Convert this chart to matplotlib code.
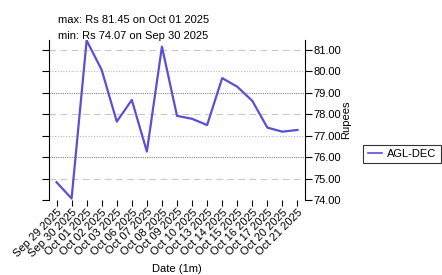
import numpy as np
import matplotlib.pyplot as plt

plt.rcParams['font.family'] = ['Liberation Sans', 'DejaVu Sans']

# 数据
dates = ['Sep 29 2025', 'Sep 30 2025', 'Oct 01 2025', 'Oct 02 2025', 'Oct 03 2025',
         'Oct 06 2025', 'Oct 07 2025', 'Oct 08 2025', 'Oct 09 2025', 'Oct 10 2025',
         'Oct 13 2025', 'Oct 14 2025', 'Oct 15 2025', 'Oct 16 2025', 'Oct 17 2025',
         'Oct 20 2025', 'Oct 21 2025']
prices = [74.83, 74.07, 81.45, 80.07, 77.66, 78.67, 76.26, 81.16, 77.93, 77.79,
          77.50, 79.69, 79.29, 78.63, 77.38, 77.19, 77.27]
y_ticks = [74, 75, 76, 77, 78, 79, 80, 81]
series_name = 'AGL-DEC'

fig = plt.figure(figsize=(4.42, 2.75), dpi=100)
ax = fig.add_axes([49 / 442, 1 - 200 / 275, 256 / 442, 160 / 275])

x = np.arange(len(dates))

# 网格线 (三种样式循环)
grid_styles = [((0, (6, 4)), '#c8c8c8'), ((0, (1, 1.5)), '#b8b8b8'), ((0, (1, 1)), '#888888')]
for i, v in enumerate(sorted(y_ticks, reverse=True)):
    if v == y_ticks[0]:
        continue
    ls, c = grid_styles[i % 3]
    ax.axhline(v, color=c, linestyle=ls, linewidth=0.8, zorder=0)

ax.plot(x, prices, color='#5a50d4', linewidth=1.6, label=series_name)

ax.set_xlim(-0.5, len(dates) - 0.5)
ax.set_ylim(74.0, 81.47)
ax.set_xticks(x)
ax.set_xticklabels(dates, rotation=45, ha='right', rotation_mode='anchor', fontsize=8)
ax.set_yticks(y_ticks)
ax.set_yticklabels([f'{v:.2f}' for v in y_ticks], fontsize=8)
ax.yaxis.tick_right()
ax.tick_params(axis='y', which='both', left=True, right=True, direction='out',
               length=5, width=0.8, pad=1)
ax.tick_params(axis='x', direction='out', length=4, width=0.8, pad=1)
ax.spines['top'].set_visible(False)
ax.spines['bottom'].set_visible(False)

ax.set_xlabel('Date (1m)', fontsize=8, labelpad=4)
ax.yaxis.set_label_position('right')
ax.set_ylabel('Rupees', fontsize=8, labelpad=0)

imax = int(np.argmax(prices))
imin = int(np.argmin(prices))
fig.text(58 / 442, 1 - 20 / 275, f'max: Rs {prices[imax]:.2f} on {dates[imax]}',
         fontsize=8, va='center')
fig.text(58 / 442, 1 - 36 / 275, f'min: Rs {prices[imin]:.2f} on {dates[imin]}',
         fontsize=8, va='center')

leg = fig.legend(loc='center', bbox_to_anchor=(402 / 442, 1 - 154 / 275), fontsize=8,
                 frameon=True, fancybox=False, handlelength=1.3, handletextpad=0.4,
                 borderpad=0.4, borderaxespad=0)
leg.get_frame().set_edgecolor('black')
leg.get_frame().set_linewidth(0.8)
leg.get_lines()[0].set_linewidth(1.2)

fig.savefig('out.png', dpi=100)
